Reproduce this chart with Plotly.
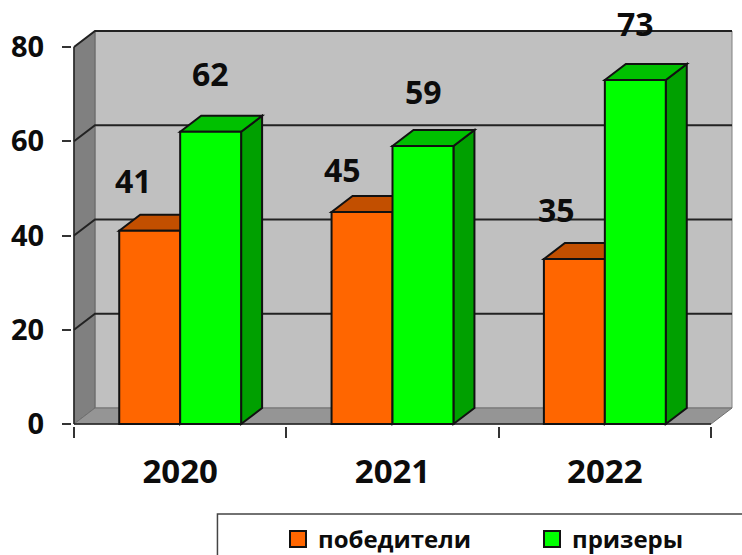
import plotly.graph_objects as go

# --- data ---
years = ["2020", "2021", "2022"]
series_names = ["победители", "призеры"]
winners = [41, 45, 35]
prizers = [62, 59, 73]
y_ticks = [0, 20, 40, 60, 80]

# --- styling ---
FONT = "Open Sans"
INK = "#0C0C0C"
ORANGE, ORANGE_TOP, ORANGE_SIDE = "#FF6600", "#C24F00", "#A84400"
GREEN, GREEN_TOP, GREEN_SIDE = "#00FF00", "#00C000", "#00A000"
WALL, SIDE_WALL, FLOOR = "#C0C0C0", "#808080", "#959595"
W, H = 742, 555
PX_X, PX_Y = 212.4, 4.7125          # pixels per axis unit
LEFT, BASE = 73.5, 424              # pixel position of the front corner
DX, DY = 21 / PX_X, 16 / PX_Y       # depth of the 3-D box in axis units
BAR = 0.287
PAD = 2                             # keeps the edge strokes inside the clip box
x0, x1 = -0.5, 2.5
y_top = y_ticks[-1]
# manual data-label offsets in pixels: (x, y above bar)
winner_off = [(-16, 50), (-20, 42), (-18, 50)]
prizer_off = [(0, 58), (1, 54), (0, 56)]


def poly(pts):
    return "M" + " L".join(f"{a},{b}" for a, b in pts) + " Z"


def shape(path, fill="rgba(0,0,0,0)", color="#111111", width=2):
    return dict(type="path", path=path, xref="x", yref="y", layer="below",
                fillcolor=fill, line=dict(color=color, width=width))


xs = list(range(len(years)))
shapes = [
    # back wall, side wall, floor
    shape(poly([(x0 + DX, DY), (x1 + DX, DY), (x1 + DX, y_top + DY), (x0 + DX, y_top + DY)]),
          WALL, "#808080", 1),
    shape(poly([(x0, 0), (x0 + DX, DY), (x0 + DX, y_top + DY), (x0, y_top)]),
          SIDE_WALL, "#666666", 1),
    shape(poly([(x0, 0), (x0 + DX, DY), (x1 + DX, DY), (x1, 0)]),
          FLOOR, "#707070", 1),
]
# grid lines wrap around side wall and back wall
for v in y_ticks[1:]:
    shapes.append(shape(f"M{x0},{v} L{x0 + DX},{v + DY} L{x1 + DX},{v + DY}",
                        color="#222222", width=2))
# axis lines
shapes.append(shape(f"M{x0},0 L{x0},{y_top}", color="#222222", width=1.5))
shapes.append(shape(f"M{x0},0 L{x1},0", color="#222222", width=1.5))

# 3-D faces of the bars
for i in xs:
    for vals, off, top, side in ((winners, -BAR, ORANGE_TOP, ORANGE_SIDE),
                                 (prizers, 0, GREEN_TOP, GREEN_SIDE)):
        v = vals[i]
        a, b = i + off, i + off + BAR
        shapes.append(shape(poly([(b, 0), (b + DX, DY), (b + DX, v + DY), (b, v)]), side))
        shapes.append(shape(poly([(a, v), (a + DX, v + DY), (b + DX, v + DY), (b, v)]), top))

# legend frame, open at the right and bottom (pixel position as paper fraction)
plot_w = (x1 - x0 + DX) * PX_X + 2 * PAD
plot_h = BASE + PAD
px = lambda p: (p - (LEFT - PAD)) / plot_w
py = lambda p: (BASE + PAD - p) / plot_h
shapes.append(dict(type="path", xref="paper", yref="paper", layer="above",
                   path=f"M{px(217)},{py(555)} L{px(217)},{py(514)} L{px(742)},{py(514)}",
                   line=dict(color="#444444", width=1.5)))

fig = go.Figure()
for name, vals, color in ((series_names[0], winners, ORANGE), (series_names[1], prizers, GREEN)):
    fig.add_bar(x=xs, y=vals, name=name, marker=dict(color=color, line=dict(color="#111111", width=2)),
                showlegend=False, hoverinfo="skip")
# legend entries with square swatches
for name, color in ((series_names[0], ORANGE), (series_names[1], GREEN)):
    fig.add_scatter(x=[None], y=[None], mode="markers", name=name,
                    marker=dict(symbol="square", size=16, color=color,
                                line=dict(color="#111111", width=2)))

annotations = []
for i in xs:
    for vals, offs, cx in ((winners, winner_off, i - BAR / 2), (prizers, prizer_off, i + BAR / 2)):
        annotations.append(dict(x=cx, y=vals[i], text=str(vals[i]), showarrow=False,
                                xshift=offs[i][0], yshift=offs[i][1], yanchor="middle",
                                font=dict(family=FONT, size=32, color=INK, weight="bold")))

fig.update_layout(
    width=W, height=H, autosize=False,
    margin=dict(l=LEFT - PAD, r=W - (LEFT - PAD) - plot_w, t=0, b=H - BASE - PAD, pad=0, autoexpand=False),
    paper_bgcolor="white", plot_bgcolor="white",
    barmode="group", bargap=1 - 2 * BAR, bargroupgap=0,
    shapes=shapes, annotations=annotations,
    font=dict(family=FONT, color=INK),
    legend=dict(orientation="h", xref="container", yref="container", x=278 / W, xanchor="left",
                y=1 - 517 / H, yanchor="top",
                entrywidth=209, entrywidthmode="pixels",
                font=dict(family=FONT, size=24, color=INK, weight="bold"),
                bgcolor="rgba(0,0,0,0)"),
    xaxis=dict(range=[x0 - PAD / PX_X, x1 + DX + PAD / PX_X], tickmode="array", tickvals=xs, ticktext=years,
               ticks="", showgrid=False, zeroline=False, showline=False, automargin=False,
               ticklabelstandoff=23, tickfont=dict(family=FONT, size=33, color=INK, weight="bold"),
               minor=dict(tickmode="array", tickvals=[x0, 0.5, 1.5, x1], ticks="outside",
                          ticklen=11, tickwidth=1.5, tickcolor="#333333", showgrid=False)),
    yaxis=dict(range=[-PAD / PX_Y, BASE / PX_Y], tickmode="array", tickvals=y_ticks,
               ticks="outside", ticklen=9, tickwidth=1.5, tickcolor="#333333", automargin=False,
               showgrid=False, zeroline=False, showline=False, ticklabelstandoff=12,
               tickfont=dict(family=FONT, size=29, color=INK, weight="bold")),
)
# the page's default body margin would otherwise shift the chart by 8 px
fig.write_html("out.html", config={"displayModeBar": False},
               post_script="document.body.style.margin='0';")
